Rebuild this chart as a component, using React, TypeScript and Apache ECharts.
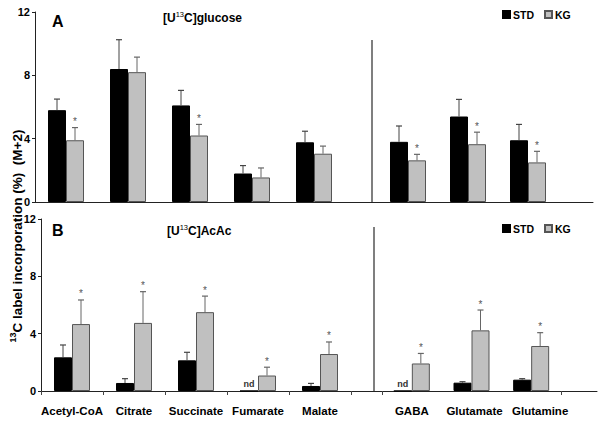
import React, { useEffect, useRef } from "react";
import * as echarts from "echarts";

const leftCategories = ["Acetyl-CoA", "Citrate", "Succinate", "Fumarate", "Malate"];
const rightCategories = ["GABA", "Glutamate", "Glutamine"];
const seriesNames = ["STD", "KG"];
const yTicks = [0, 4, 8, 12];

// Panel A: [U13C]glucose
const glucoseStdLeft = [5.8, 8.4, 6.1, 1.8, 3.77];
const glucoseStdErrLeft = [0.7, 1.85, 0.95, 0.5, 0.7];
const glucoseKgLeft = [3.9, 8.2, 4.2, 1.55, 3.05];
const glucoseKgErrLeft = [0.8, 0.95, 0.7, 0.6, 0.48];
const glucoseSigLeft = [1, 0, 1, 0, 0];
const glucoseStdRight = [3.8, 5.4, 3.9];
const glucoseStdErrRight = [1.0, 1.08, 1.0];
const glucoseKgRight = [2.63, 3.65, 2.5];
const glucoseKgErrRight = [0.38, 0.76, 0.7];
const glucoseSigRight = [1, 1, 1];

// Panel B: [U13C]AcAc
const acacStdLeft = [2.35, 0.56, 2.14, 0, 0.35];
const acacStdErrLeft = [0.86, 0.3, 0.56, 0, 0.18];
const acacStdNdLeft = [0, 0, 0, 1, 0];
const acacKgLeft = [4.67, 4.75, 5.5, 1.08, 2.58];
const acacKgErrLeft = [1.68, 2.18, 1.12, 0.58, 0.84];
const acacSigLeft = [1, 1, 1, 1, 1];
const acacStdRight = [0, 0.58, 0.79];
const acacStdErrRight = [0, 0.07, 0.07];
const acacStdNdRight = [1, 0, 0];
const acacKgRight = [1.92, 4.23, 3.14];
const acacKgErrRight = [0.7, 1.42, 0.93];
const acacSigRight = [1, 1, 1];

const FONT = "'Liberation Sans', Arial, sans-serif";
const BAR_W = 18;
const STD_COLOR = "#000000";
const KG_COLOR = "#c0c0c0";

function errRender(offset: number, color: string) {
  return (params: any, api: any) => {
    const i = api.value(0);
    const v = api.value(1);
    const e = api.value(2);
    const sig = api.value(3);
    const nd = api.value(4);
    const base = api.coord([i, v]);
    const top = api.coord([i, v + e]);
    const x = base[0] + offset;
    const children: any[] = [];
    if (e > 0) {
      children.push({
        type: "line",
        shape: { x1: x, y1: base[1], x2: x, y2: top[1] },
        style: { stroke: color, lineWidth: 1 },
      });
      children.push({
        type: "line",
        shape: { x1: x - 3, y1: top[1], x2: x + 3, y2: top[1] },
        style: { stroke: color, lineWidth: 1.2 },
      });
    }
    if (sig) {
      children.push({
        type: "text",
        x: x,
        y: top[1] - 1,
        style: {
          text: "*",
          fill: "#555",
          fontSize: 10,
          fontFamily: FONT,
          align: "center",
          verticalAlign: "bottom",
        },
      });
    }
    if (nd) {
      children.push({
        type: "text",
        x: x,
        y: base[1] - 3,
        style: {
          text: "nd",
          fill: "#333",
          fontSize: 9,
          fontWeight: "bold",
          fontFamily: FONT,
          align: "center",
          verticalAlign: "bottom",
        },
      });
    }
    return { type: "group", children };
  };
}

function buildErrData(vals: number[], errs: number[], sig: number[] | null, nd: number[] | null) {
  return vals.map((v, i) => [i, v, errs[i], sig ? sig[i] : 0, nd ? nd[i] : 0]);
}

export default function App() {
  const ref = useRef<HTMLDivElement>(null);
  useEffect(() => {
    document.body.style.margin = "0";
    const chart = echarts.init(ref.current!, null, { renderer: "svg" });

    const grids = [
      { left: 35, top: 12, width: 558, height: 190 },
      { left: 35, top: 12, width: 310, height: 190 },
      { left: 378, top: 12, width: 180, height: 190 },
      { left: 41, top: 219, width: 556, height: 172 },
      { left: 41, top: 219, width: 310, height: 172 },
      { left: 382, top: 219, width: 179, height: 172 },
    ];

    const labelRich = {
      n: { fontSize: 11.5, fontWeight: "bold", fontFamily: FONT, color: "#000" },
      g1: { fontSize: 11.5, fontWeight: "bold", fontFamily: FONT, color: "#000", padding: [0, 0, 0, 6] },
      g2: { fontSize: 11.5, fontWeight: "bold", fontFamily: FONT, color: "#000", padding: [0, 0, 0, 18] },
    };

    const fullX = (gi: number) => ({
      type: "value",
      gridIndex: gi,
      min: 0,
      max: 1,
      axisLine: { show: true, onZero: false, lineStyle: { color: "#222", width: 1 } },
      axisTick: { show: false },
      axisLabel: { show: false },
      splitLine: { show: false },
    });
    const catX = (gi: number, data: string[], labels: boolean, tickFilter?: (i: number) => boolean, fmt?: (v: string) => string) => ({
      type: "category",
      gridIndex: gi,
      data,
      axisLine: { show: false },
      axisTick: labels
        ? { show: true, length: 4, lineStyle: { color: "#444" }, interval: tickFilter ? (i: number) => tickFilter(i) : 0 }
        : { show: false },
      axisLabel: labels
        ? {
            show: true,
            interval: 0,
            margin: 14,
            color: "#000",
            fontSize: 11.5,
            fontWeight: "bold",
            fontFamily: FONT,
            formatter: fmt ? fmt : (v: string) => "{n|" + v + "}",
            rich: labelRich,
          }
        : { show: false },
      splitLine: { show: false },
    });
    const visY = (gi: number) => ({
      type: "value",
      gridIndex: gi,
      min: yTicks[0],
      max: yTicks[yTicks.length - 1],
      interval: 4,
      axisLine: { show: true, lineStyle: { color: "#222", width: 1 } },
      axisTick: { show: true, length: 3, lineStyle: { color: "#222" } },
      axisLabel: { show: true, margin: 5, color: "#000", fontSize: 11, fontWeight: "bold", fontFamily: FONT },
      splitLine: { show: false },
    });
    const hidY = (gi: number) => ({
      type: "value",
      gridIndex: gi,
      min: 0,
      max: 12,
      show: false,
      splitLine: { show: false },
    });

    const barSeries = (name: string, axis: number, data: number[]) => ({
      name,
      type: "bar",
      xAxisIndex: axis,
      yAxisIndex: axis,
      data,
      barWidth: BAR_W,
      barGap: "0%",
      itemStyle:
        name === "STD"
          ? { color: STD_COLOR, borderColor: "#000", borderWidth: 1 }
          : { color: KG_COLOR, borderColor: "#555", borderWidth: 1 },
      z: 2,
    });
    const errSeries = (name: string, axis: number, offset: number, color: string, data: any[]) => ({
      name,
      type: "custom",
      xAxisIndex: axis,
      yAxisIndex: axis,
      renderItem: errRender(offset, color),
      encode: { x: 0, y: 1 },
      itemStyle: { color: "#555" },
      data,
      z: 5,
      silent: true,
    });

    const series: any[] = [
      barSeries("STD", 1, glucoseStdLeft),
      barSeries("KG", 1, glucoseKgLeft),
      barSeries("STD", 2, glucoseStdRight),
      barSeries("KG", 2, glucoseKgRight),
      barSeries("STD", 4, acacStdLeft),
      barSeries("KG", 4, acacKgLeft),
      barSeries("STD", 5, acacStdRight),
      barSeries("KG", 5, acacKgRight),
      errSeries("eA1", 1, -BAR_W / 2, "#444", buildErrData(glucoseStdLeft, glucoseStdErrLeft, null, null)),
      errSeries("eA2", 1, BAR_W / 2, "#666", buildErrData(glucoseKgLeft, glucoseKgErrLeft, glucoseSigLeft, null)),
      errSeries("eA3", 2, -BAR_W / 2, "#444", buildErrData(glucoseStdRight, glucoseStdErrRight, null, null)),
      errSeries("eA4", 2, BAR_W / 2, "#666", buildErrData(glucoseKgRight, glucoseKgErrRight, glucoseSigRight, null)),
      errSeries("eB1", 4, -BAR_W / 2, "#444", buildErrData(acacStdLeft, acacStdErrLeft, null, acacStdNdLeft)),
      errSeries("eB2", 4, BAR_W / 2, "#666", buildErrData(acacKgLeft, acacKgErrLeft, acacSigLeft, null)),
      errSeries("eB3", 5, -BAR_W / 2, "#444", buildErrData(acacStdRight, acacStdErrRight, null, acacStdNdRight)),
      errSeries("eB4", 5, BAR_W / 2, "#666", buildErrData(acacKgRight, acacKgErrRight, acacSigRight, null)),
    ];

    const legendBase = {
      data: seriesNames,
      icon: "rect",
      itemWidth: 7,
      itemHeight: 7,
      itemGap: 10,
      left: 497,
      textStyle: { color: "#000", fontSize: 10.5, fontWeight: "bold", fontFamily: FONT, padding: [0, 0, 0, -2] },
      selectedMode: false,
    };

    const titleRich = {
      a: { fontSize: 12, fontWeight: "bold", fontFamily: FONT, fill: "#000", lineHeight: 14, verticalAlign: "bottom" },
      sup: { fontSize: 7.5, fontWeight: "normal", fontFamily: FONT, fill: "#000", lineHeight: 14, verticalAlign: "top" },
    };

    chart.setOption({
      animation: false,
      backgroundColor: "#fff",
      grid: grids,
      xAxis: [
        fullX(0),
        catX(1, leftCategories, false),
        catX(2, rightCategories, false),
        fullX(3),
        catX(4, leftCategories, true),
        catX(5, rightCategories, true, (i: number) => i >= 2, (v: string) =>
          v === "Glutamine" ? "{g2|" + v + "}" : v === "Glutamate" ? "{g1|" + v + "}" : "{n|" + v + "}"
        ),
      ],
      yAxis: [visY(0), hidY(1), hidY(2), visY(3), hidY(4), hidY(5)],
      legend: [
        { ...legendBase, top: 4 },
        { ...legendBase, top: 218 },
      ],
      series,
      graphic: [
        {
          type: "line",
          shape: { x1: 372, y1: 40, x2: 372, y2: 202 },
          style: { stroke: "#555", lineWidth: 1.5 },
        },
        {
          type: "line",
          shape: { x1: 374, y1: 227, x2: 374, y2: 391 },
          style: { stroke: "#555", lineWidth: 1.5 },
        },
        {
          type: "text",
          left: 52,
          top: 13,
          style: { text: "A", fontSize: 16, fontWeight: "bold", fontFamily: FONT, fill: "#000" },
        },
        {
          type: "text",
          left: 52,
          top: 222,
          style: { text: "B", fontSize: 16, fontWeight: "bold", fontFamily: FONT, fill: "#000" },
        },
        {
          type: "text",
          left: 163,
          top: 10,
          style: { text: "{a|[U}{sup|13}{a|C]glucose}", rich: titleRich },
        },
        {
          type: "text",
          left: 167,
          top: 223,
          style: { text: "{a|[U}{sup|13}{a|C]AcAc}", rich: titleRich },
        },
        {
          type: "text",
          x: 16,
          y: 236,
          rotation: Math.PI / 2,
          style: {
            text: "{s|13}{m|C label incorporation (%)  (M+2)}",
            align: "center",
            verticalAlign: "middle",
            rich: {
              m: { fontSize: 13.5, fontWeight: "bold", fontFamily: FONT, fill: "#000", lineHeight: 16, verticalAlign: "bottom" },
              s: { fontSize: 9, fontWeight: "bold", fontFamily: FONT, fill: "#000", lineHeight: 16, verticalAlign: "top" },
            },
          },
        },
      ],
    });
    return () => chart.dispose();
  }, []);
  return <div ref={ref} style={{ width: 603, height: 424 }} />;
}
